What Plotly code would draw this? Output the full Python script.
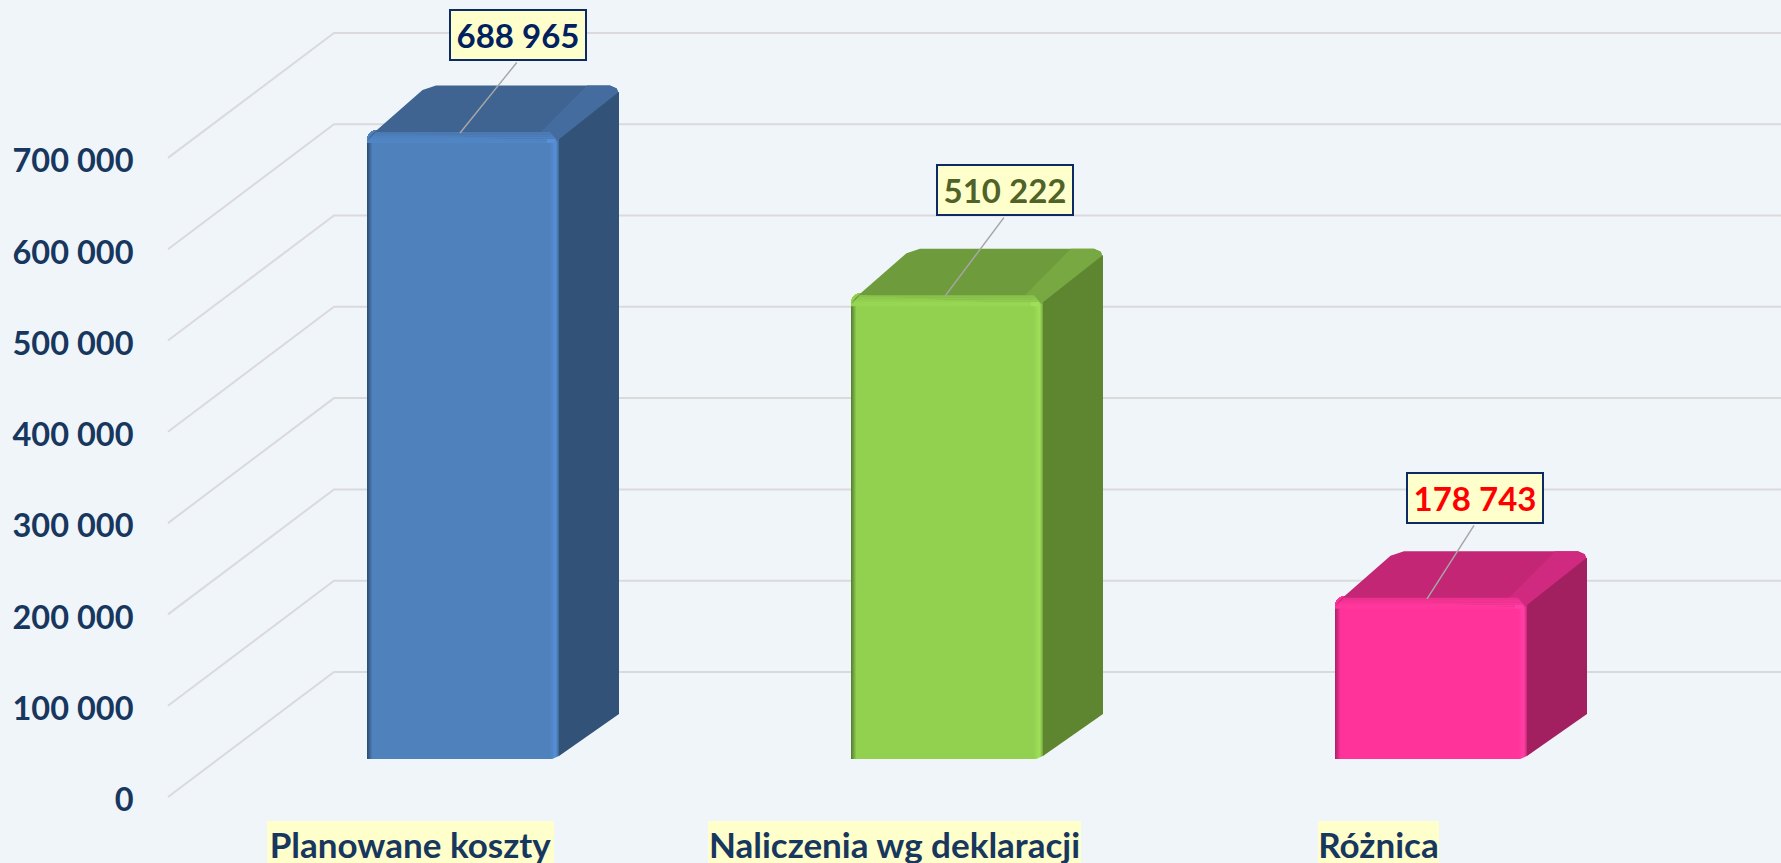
import plotly.graph_objects as go

# ---------- data ----------
categories = ["Planowane koszty", "Naliczenia wg deklaracji", "Różnica"]
values = [688965, 510222, 178743]
value_labels = ["688 965", "510 222", "178 743"]
tick_values = [0, 100000, 200000, 300000, 400000, 500000, 600000, 700000]
tick_labels = ["0", "100 000", "200 000", "300 000", "400 000", "500 000", "600 000", "700 000"]

# ---------- style ----------
W, H = 1781, 863
BG = "#F0F5FA"
FONT = "Lato, 'Noto Sans', sans-serif"
NAVY = "#17375E"
front_colors = ["#4F81BD", "#92D050", "#FF3399"]
top_colors = ["#3F6491", "#6E9C3C", "#C22675"]
top_light = ["#446C9E", "#78A842", "#D02A80"]
side_colors = ["#325278", "#5E8530", "#A32060"]
edge_dark = ["#2F5077", "#5A8230", "#B0246C"]
edge_light = ["#5590D8", "#9EE058", "#FF40A4"]
label_colors = ["#002060", "#4F6228", "#FF0000"]
# leader line: (tip x shift, offset from tip to the box's bottom centre), px
leader_tips = [(-3, 58, -72), (-2, 60, -80), (-4, 48, -75)]
cat_box_widths = [287, 373, 121]

PX_PER_UNIT = 91.3 / 100000          # vertical pixels per value unit
PX_PER_CAT = 484.0                   # horizontal pixels between bars
BAR0_PX, BASE_PX = 463.0, 759.0      # first bar centre, bar baseline
AXIS0_PX = 797.0                     # y pixel of value 0 at the axis (front of the floor)
AXIS_X_PX, BACK_X_PX = 168.0, 334.0  # gridline ends


def dv(px):
    return px / PX_PER_UNIT


def dc(px):
    return px / PX_PER_CAT


def blend(c1, c2, t):
    a = [int(c1[k:k + 2], 16) for k in (1, 3, 5)]
    b = [int(c2[k:k + 2], 16) for k in (1, 3, 5)]
    return "#%02X%02X%02X" % tuple(round(p + (q - p) * t) for p, q in zip(a, b))


x_range = [-BAR0_PX / PX_PER_CAT, (W - BAR0_PX) / PX_PER_CAT]
bar_y_range = [-(H - BASE_PX) / PX_PER_UNIT, BASE_PX / PX_PER_UNIT]
grid_y_range = [-(H - AXIS0_PX) / PX_PER_UNIT, AXIS0_PX / PX_PER_UNIT]

bar_w = dc(192)
depth_x, depth_y = dc(60), dv(45)
top_back_y = dv(46.5)
rx, ry = dc(9), dv(9)

fig = go.Figure()

# ---------- gridlines: floor diagonals and back wall, drawn under the bars ----------
wall_shift = dv(125)
left = (AXIS_X_PX - BAR0_PX) / PX_PER_CAT
back = (BACK_X_PX - BAR0_PX) / PX_PER_CAT
gx, gy = [], []
for t in tick_values:
    gx += [left, back, x_range[1], None]
    gy += [t, t + wall_shift, t + wall_shift, None]
fig.add_trace(go.Scatter(x=gx, y=gy, mode="lines", line=dict(color="#DADADC", width=2),
                         hoverinfo="skip", showlegend=False, xaxis="x", yaxis="y"))

# ---------- front faces ----------
fig.add_trace(go.Bar(x=list(range(len(values))), y=values, width=bar_w,
                     marker=dict(color=front_colors, line=dict(width=0), cornerradius=9),
                     hoverinfo="skip", showlegend=False, xaxis="x2", yaxis="y2"))


def poly(xs, ys, color):
    fig.add_trace(go.Scatter(x=xs + xs[:1], y=ys + ys[:1], mode="lines", fill="toself",
                             fillcolor=color, line=dict(width=0), hoverinfo="skip",
                             showlegend=False, xaxis="x2", yaxis="y2"))


for i, val in enumerate(values):
    xl, xr = i - bar_w / 2, i + bar_w / 2
    v = val - dv(2)          # visible top of the bevelled front edge
    f, t_, s = front_colors[i], top_colors[i], side_colors[i]
    # top face with rounded back corners (drawn first so the side face overlaps its edge)
    poly([xl, xl + rx / 2, xl + depth_x - rx / 2, xl + depth_x + rx, xr + depth_x - rx,
          xr + depth_x - rx / 4, xr + depth_x, xr, xl + rx],
         [v - ry, v - ry * 0.3, v + top_back_y - ry * 0.5, v + top_back_y, v + top_back_y,
          v + top_back_y - ry / 3, v + top_back_y - ry, v - ry * 1.1, v], t_)
    # lighter right-hand part of the top face
    poly([xr - dc(18), xr + depth_x - dc(32), xr + depth_x - rx, xr + depth_x - rx / 4,
          xr + depth_x, xr],
         [v, v + top_back_y, v + top_back_y, v + top_back_y - ry / 3, v + top_back_y - ry, v - ry * 1.1],
         top_light[i])
    # bevel along the front top edge, fading from the top colour into the front colour
    n_band = 5
    for k in range(n_band):
        y1 = v - dv(11) * k / n_band
        y2 = v - dv(11) * (k + 1) / n_band
        poly([xl + rx * (1 - (k + 1) / n_band), xl + rx * (1 - k / n_band),
              xr - rx * (1 - k / n_band), xr - rx * (1 - (k + 1) / n_band)],
             [y2, y1, y1, y2],
             blend(blend(t_, f, 0.6), blend(f, edge_light[i], 0.35), min(1, (k + 1) / (n_band - 1))))
    # bevel on the left edge of the front: dark fading into the front colour
    n_left = 6
    for k in range(n_left):
        poly([xl + dc(k), xl + dc(k + 1.2), xl + dc(k + 1.2), xl + dc(k)],
             [0, 0, v - dv(11), v - dv(11)], blend(edge_dark[i], f, k / (n_left - 1)))
    # highlight then shade on the right edge of the front
    n_right = 10
    for k in range(n_right):
        pos = k / (n_right - 1)
        col = blend(f, edge_light[i], pos / 0.7) if pos < 0.7 else blend(edge_light[i], blend(f, s, 0.45), (pos - 0.7) / 0.3)
        poly([xr - dc(n_right - k), xr - dc(n_right - k - 1.2), xr - dc(n_right - k - 1.2), xr - dc(n_right - k)],
             [0, 0, v - dv(9), v - dv(9)], col)
    # small glint at the front-right corner
    poly([xr - dc(12), xr - dc(3), xr - dc(5), xr - dc(12)],
         [v - dv(7), v - dv(7), v - dv(11), v - dv(11)], edge_light[i])
    # rounded lower-right corner of the front
    poly([xr - dc(9), xr + dc(1), xr + dc(1)], [-dv(1), -dv(1), dv(3.5)], BG)
    # side face, overlapping the lower edge of the top face
    poly([xr, xr + depth_x, xr + depth_x, xr],
         [dv(3), depth_y, v + top_back_y - ry * 0.7, v - ry * 0.8], s)

# ---------- annotations ----------
annotations = []
for i, (v, txt, col, tip) in enumerate(zip(values, value_labels, label_colors, leader_tips)):
    sx, ax, ay = tip
    # leader line from the bar's top edge to the bottom centre of the box
    annotations.append(dict(
        xref="x2", yref="y2", x=i, y=v, xshift=sx, yshift=-3, ax=ax, ay=ay,
        axref="pixel", ayref="pixel", text="", showarrow=True, arrowhead=0,
        arrowwidth=1.5, arrowcolor="#A6A6A6", standoff=0, startstandoff=0))
    # value box
    annotations.append(dict(
        xref="x2", yref="y2", x=i, y=v, xanchor="center", yanchor="bottom",
        xshift=sx + ax, yshift=-3 - ay, text=f"<b>{txt}</b>", showarrow=False,
        width=134, height=48, align="center", valign="middle",
        bgcolor="#FFFFCC", bordercolor="#0B2A66", borderwidth=2, borderpad=0,
        font=dict(family=FONT, size=33, color=col)))
for i, (cat, bw) in enumerate(zip(categories, cat_box_widths)):
    annotations.append(dict(
        xref="x2", yref="paper", x=i, y=0, xanchor="center", yanchor="bottom",
        xshift=-53, yshift=-3, width=bw, height=45, align="center", text=f"<b>{cat}</b>",
        showarrow=False, bgcolor="#FFFFCC", borderpad=0, borderwidth=0,
        font=dict(family=FONT, size=35, color=NAVY)))

fig.update_layout(
    width=W, height=H, autosize=False,
    margin=dict(l=0, r=0, t=0, b=0),
    paper_bgcolor=BG, plot_bgcolor=BG,
    showlegend=False, bargap=0,
    xaxis=dict(range=x_range, domain=[0, 1], visible=False, fixedrange=True),
    yaxis=dict(range=grid_y_range, domain=[0, 1], anchor="free", position=133.5 / W,
               tickmode="array", tickvals=tick_values, ticktext=[f"<b>{t}</b>" for t in tick_labels],
               showgrid=False, zeroline=False, showline=False, ticks="", ticklabelshift=3,
               tickfont=dict(family=FONT, size=32.5, color=NAVY), fixedrange=True),
    xaxis2=dict(range=x_range, domain=[0, 1], visible=False, overlaying="x", fixedrange=True),
    yaxis2=dict(range=bar_y_range, domain=[0, 1], visible=False, overlaying="y",
                anchor="x2", fixedrange=True),
    annotations=annotations,
)

fig.write_html("out.html", config={"displayModeBar": False},
               post_script="document.body.style.margin='0';document.body.style.overflow='hidden';")
